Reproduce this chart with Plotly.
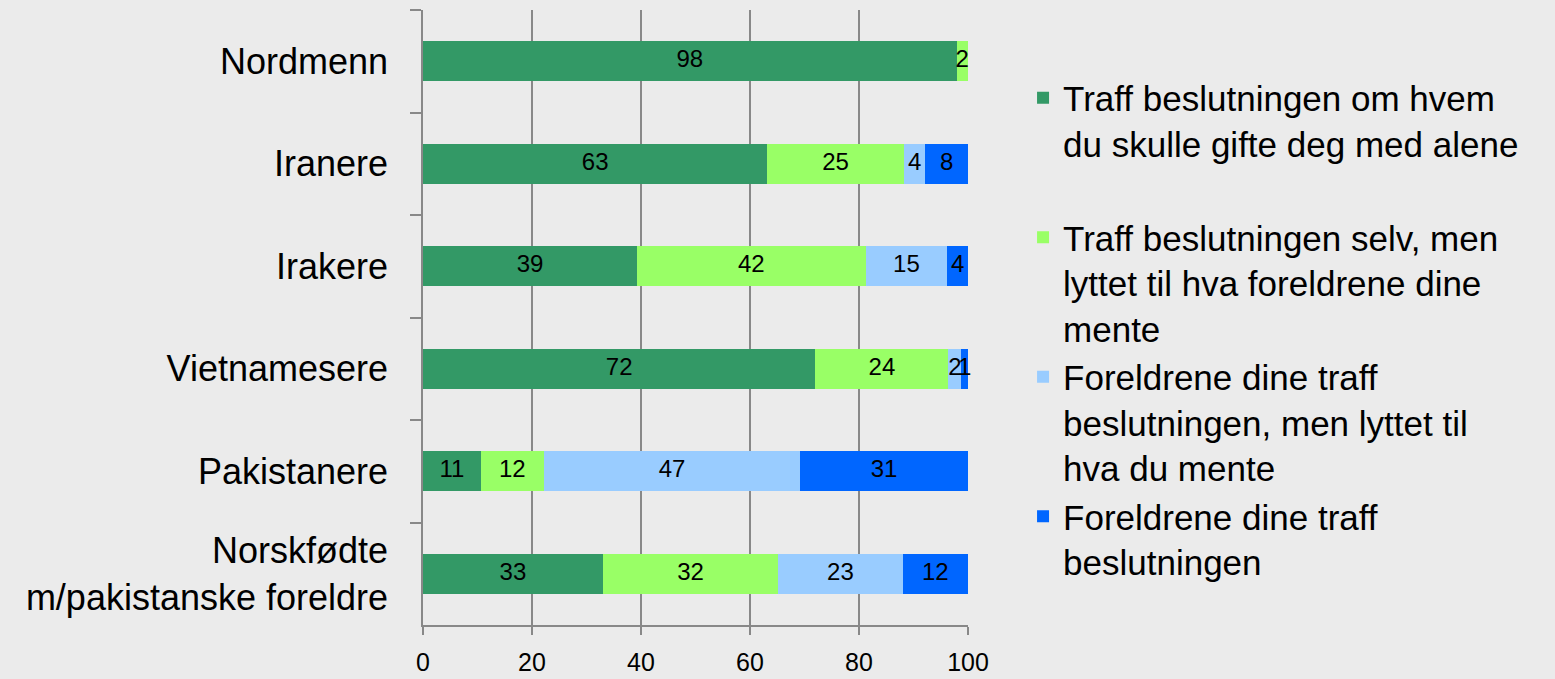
import plotly.graph_objects as go

categories = ["Nordmenn", "Iranere", "Irakere", "Vietnamesere", "Pakistanere",
              "Norskfødte<br>m/pakistanske foreldre"]

series_names = [
    "Traff beslutningen om hvem<br>du skulle gifte deg med alene<br> ",
    "Traff beslutningen selv, men<br>lyttet til hva foreldrene dine<br>mente",
    "Foreldrene dine traff<br>beslutningen, men lyttet til<br>hva du mente",
    "Foreldrene dine traff<br>beslutningen",
]

alene = [97.9, 63.2, 39.3, 72.0, 10.6, 33.0]
selv_lyttet = [2.1, 25.0, 41.9, 24.4, 11.6, 32.2]
foreldre_lyttet = [None, 4.0, 15.0, 2.4, 47.0, 22.8]
foreldre = [None, 7.8, 3.8, 1.2, 30.8, 12.0]

colors = ["#339966", "#99FF66", "#99CCFF", "#0066FF"]
x_ticks = [0, 20, 40, 60, 80, 100]

FONT = "Arial, Liberation Sans, sans-serif"

all_series = [alene, selv_lyttet, foreldre_lyttet, foreldre]

fig = go.Figure()
for name, vals, col in zip(series_names, all_series, colors):
    fig.add_trace(go.Bar(
        y=categories, x=vals, name=name, orientation="h",
        marker=dict(color=col, line=dict(width=0)),
        hoverinfo="x+y",
    ))

# data labels centred on each segment (positions derived from the data)
lab_x, lab_y, lab_t = [], [], []
for i, cat in enumerate(categories):
    cum = 0.0
    for vals in all_series:
        v = vals[i]
        if v is None:
            continue
        lab_x.append(cum + v / 2)
        lab_y.append(cat)
        lab_t.append(f"{v:.0f}")
        cum += v
fig.add_trace(go.Scatter(
    x=lab_x, y=lab_y, text=lab_t, mode="text", textposition="middle center",
    textfont=dict(family=FONT, size=24, color="black"),
    showlegend=False, hoverinfo="skip", cliponaxis=False,
))

fig.update_layout(
    barmode="stack", bargap=0.61,
    width=1555, height=679,
    margin=dict(l=423, r=587, t=10, b=54, autoexpand=False),
    paper_bgcolor="#EBEBEB", plot_bgcolor="#EBEBEB",
    font=dict(family=FONT, color="black"),
    legend=dict(
        x=1.101, xanchor="left", y=0.905, yanchor="top",
        font=dict(family=FONT, size=35, color="black"),
        valign="top", traceorder="normal", bgcolor="rgba(0,0,0,0)",
        tracegroupgap=0, itemclick=False,
    ),
    showlegend=True,
)
fig.update_xaxes(
    range=[0, 100], tickvals=x_ticks, showgrid=True, gridcolor="#888888", gridwidth=1.5,
    zeroline=False, showline=True, linecolor="#888888", linewidth=1.5,
    ticks="outside", ticklen=8, tickcolor="#888888", tickwidth=1.5, automargin=False,
    tickfont=dict(family=FONT, size=25, color="black"), ticklabelstandoff=6,
)
fig.update_yaxes(
    autorange="reversed", type="category", tickson="boundaries",
    showgrid=False, showline=True, linecolor="#888888", linewidth=1.5,
    ticks="outside", ticklen=11, tickcolor="#888888", tickwidth=1.5, automargin=False,
    tickfont=dict(family=FONT, size=36, color="black"), ticklabelstandoff=26,
)

fig.write_html("out.html", config={"displayModeBar": False},
               post_script="document.body.style.margin='0';")
